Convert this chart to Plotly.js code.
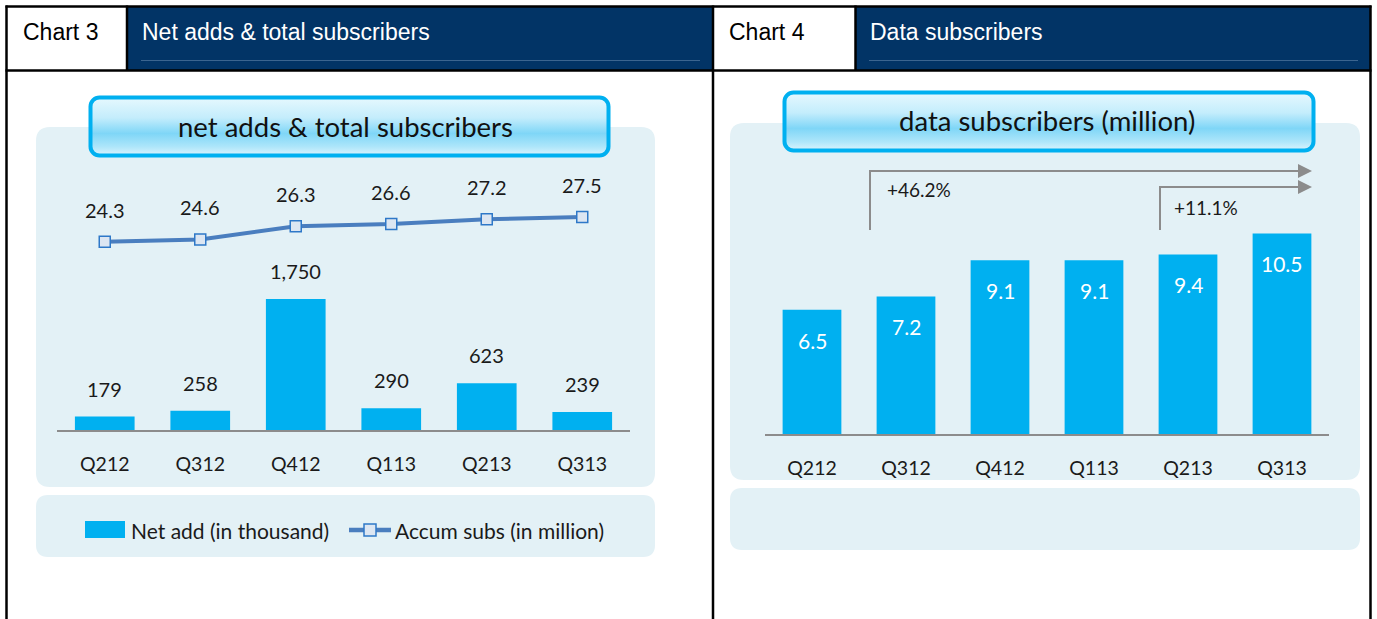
<!DOCTYPE html>
<html><head><meta charset="utf-8">
<script src="https://cdn.plot.ly/plotly-3.0.1.min.js"></script>
<style>html,body{margin:0;padding:0;background:#fff;}#chart{width:1377px;height:619px;}</style>
</head><body><div id="chart"></div>
<script>
// ---- data ----
const quarters = ["Q212","Q312","Q412","Q113","Q213","Q313"];
const netAdds = [179, 258, 1750, 290, 623, 239];          // thousand
const accumSubs = [24.3, 24.6, 26.3, 26.6, 27.2, 27.5];    // million
const dataSubs = [6.5, 7.2, 9.1, 9.1, 9.4, 10.5];          // million
const growthLabels = ["+46.2%", "+11.1%"];
const chart3Tag = "Chart 3", chart3Title = "Net adds & total subscribers";
const chart4Tag = "Chart 4", chart4Title = "Data subscribers";
const box3Title = "net adds & total subscribers";
const box4Title = "data subscribers (million)";
const legendNames = ["Net add (in thousand)", "Accum subs (in million)"];

// ---- helpers (pixel -> paper) ----
const W = 1377, H = 619;
const X = p => p / W, Y = p => 1 - p / H;
const CYAN = "#00b0f0", NAVY = "#023466", PANEL = "#e3f1f6";
const LINEC = "#4a7ebf", MFILL = "#dce6f2", MLINE = "#2e78c8";
const FONT = "Lato, 'Open Sans', sans-serif";
const HFONT = "'Liberation Sans', Arial, sans-serif";

function rr(x0, y0, x1, y1, r) {
  const p = (x, y) => X(x) + "," + Y(y);
  return "M" + p(x0 + r, y0) + " L" + p(x1 - r, y0) + " Q" + p(x1, y0) + " " + p(x1, y0 + r) +
    " L" + p(x1, y1 - r) + " Q" + p(x1, y1) + " " + p(x1 - r, y1) +
    " L" + p(x0 + r, y1) + " Q" + p(x0, y1) + " " + p(x0, y1 - r) +
    " L" + p(x0, y0 + r) + " Q" + p(x0, y0) + " " + p(x0 + r, y0) + " Z";
}
function rect(x0, y0, x1, y1, fill, layer) {
  return {type: "rect", xref: "paper", yref: "paper", x0: X(x0), x1: X(x1), y0: Y(y1), y1: Y(y0),
    fillcolor: fill, line: {width: 0}, layer: layer || "below"};
}
function line(x0, y0, x1, y1, color, w, layer) {
  return {type: "line", xref: "paper", yref: "paper", x0: X(x0), x1: X(x1), y0: Y(y0), y1: Y(y1),
    line: {color: color, width: w}, layer: layer || "above"};
}
function txt(x, y, s, size, color, anchor, family) {
  return {xref: "paper", yref: "paper", x: X(x), y: Y(y), text: s, showarrow: false,
    xanchor: anchor || "left", yanchor: "middle", font: {family: family || FONT, size: size, color: color}};
}
function boxImg(x0, y0, x1, y1) {
  const w = x1 - x0, h = y1 - y0;
  const svg = '<svg xmlns="http://www.w3.org/2000/svg" width="' + w + '" height="' + h + '" viewBox="0 0 ' + w + ' ' + h + '">' +
    '<defs><linearGradient id="g" x1="0" y1="0" x2="0" y2="1">' +
    '<stop offset="0" stop-color="#e6f8fe"/><stop offset="0.35" stop-color="#c4edfc"/>' +
    '<stop offset="0.62" stop-color="#7fd6f7"/><stop offset="0.85" stop-color="#aee6fa"/>' +
    '<stop offset="1" stop-color="#dcf4fd"/></linearGradient></defs>' +
    '<rect x="2.5" y="2.5" width="' + (w - 5) + '" height="' + (h - 5) + '" rx="9" ry="9" fill="url(#g)" stroke="' + CYAN + '" stroke-width="4"/></svg>';
  return {source: "data:image/svg+xml;charset=utf-8," + encodeURIComponent(svg), xref: "paper", yref: "paper",
    x: X(x0), y: Y(y0), sizex: w / W, sizey: h / H, xanchor: "left", yanchor: "top", sizing: "stretch", layer: "above"};
}

// ---- traces ----
const traces = [
  {type: "bar", x: quarters, y: netAdds, xaxis: "x", yaxis: "y", name: legendNames[0],
   marker: {color: CYAN}, hoverinfo: "x+y"},
  {type: "scatter", mode: "lines+markers", x: quarters, y: accumSubs, xaxis: "x", yaxis: "y2", name: legendNames[1],
   line: {color: LINEC, width: 4}, marker: {symbol: "square", size: 11, color: MFILL, line: {color: MLINE, width: 1.5}}},
  {type: "bar", x: quarters, y: dataSubs, xaxis: "x2", yaxis: "y3", name: "Data subscribers",
   marker: {color: CYAN}}
];

// ---- annotations ----
const ann = [];
ann.push(txt(21, 32, chart3Tag, 23, "#000", "left", HFONT));
ann.push(txt(140, 32, chart3Title, 23, "#fff", "left", HFONT));
ann.push(txt(727, 32, chart4Tag, 23, "#000", "left", HFONT));
ann.push(txt(868, 32, chart4Title, 23, "#fff", "left", HFONT));
ann.push(txt(345, 126, box3Title, 27.5, "#111", "center"));
ann.push(txt(1047, 121, box4Title, 27.5, "#111", "center"));
quarters.forEach((q, i) => {
  ann.push({x: q, y: netAdds[i], xref: "x", yref: "y", text: netAdds[i].toLocaleString("en-US"),
    showarrow: false, yanchor: "bottom", yshift: 14, font: {family: FONT, size: 20, color: "#1a1a1a"}});
  ann.push({x: q, y: accumSubs[i], xref: "x", yref: "y2", text: accumSubs[i].toFixed(1),
    showarrow: false, yanchor: "bottom", yshift: 18, font: {family: FONT, size: 20, color: "#1a1a1a"}});
  ann.push({x: q, y: dataSubs[i], xref: "x2", yref: "y3", text: dataSubs[i].toFixed(1),
    showarrow: false, yanchor: "top", yshift: -16, font: {family: FONT, size: 21, color: "#ffffff"}});
});
ann.push(txt(885, 190, growthLabels[0], 19, "#1a1a1a", "left"));
ann.push(txt(1172, 208, growthLabels[1], 19, "#1a1a1a", "left"));
ann.push(txt(129, 530, legendNames[0], 21, "#1a1a1a", "left"));
ann.push(txt(393, 530, legendNames[1], 21, "#1a1a1a", "left"));

// ---- shapes ----
const shapes = [];
// panels
shapes.push({type: "path", xref: "paper", yref: "paper", path: rr(36, 127, 655, 487, 14), fillcolor: PANEL, line: {width: 0}, layer: "below"});
shapes.push({type: "path", xref: "paper", yref: "paper", path: rr(36, 495, 655, 557, 12), fillcolor: PANEL, line: {width: 0}, layer: "below"});
shapes.push({type: "path", xref: "paper", yref: "paper", path: rr(730, 123, 1360, 480, 14), fillcolor: PANEL, line: {width: 0}, layer: "below"});
shapes.push({type: "path", xref: "paper", yref: "paper", path: rr(730, 488, 1360, 550, 12), fillcolor: PANEL, line: {width: 0}, layer: "below"});
// header
shapes.push(rect(127, 7, 713, 70, NAVY, "below"));
shapes.push(rect(855, 7, 1370, 70, NAVY, "below"));
shapes.push(line(141, 60.5, 700, 60.5, "#3b6590", 1));
shapes.push(line(869, 60.5, 1358, 60.5, "#3b6590", 1));
const K = "#000";
shapes.push(line(5.5, 6.5, 1371.5, 6.5, K, 2.5));
shapes.push(line(5.5, 70.5, 1371.5, 70.5, K, 2.5));
shapes.push(line(6.5, 5.5, 6.5, 619, K, 2.5));
shapes.push(line(713, 5.5, 713, 619, K, 2.5));
shapes.push(line(1370.5, 5.5, 1370.5, 619, K, 2.5));
shapes.push(line(127, 5.5, 127, 70, K, 2.5));
shapes.push(line(855.5, 5.5, 855.5, 70, K, 2.5));
// growth arrows
const G = "#8c8c8c";
shapes.push({type: "path", xref: "paper", yref: "paper", line: {color: G, width: 2}, layer: "above",
  path: "M" + X(870) + "," + Y(230) + " L" + X(870) + "," + Y(171) + " L" + X(1300) + "," + Y(171)});
shapes.push({type: "path", xref: "paper", yref: "paper", line: {color: G, width: 2}, layer: "above",
  path: "M" + X(1160) + "," + Y(230) + " L" + X(1160) + "," + Y(187) + " L" + X(1300) + "," + Y(187)});
[171, 187].forEach(yy => shapes.push({type: "path", xref: "paper", yref: "paper", fillcolor: G, line: {width: 0}, layer: "above",
  path: "M" + X(1298) + "," + Y(yy - 7) + " L" + X(1312) + "," + Y(yy) + " L" + X(1298) + "," + Y(yy + 7) + " Z"}));
// manual legend
shapes.push(rect(85, 521, 125, 538, CYAN, "above"));
shapes.push(line(349, 530, 391, 530, LINEC, 4.5));
shapes.push({type: "rect", xref: "paper", yref: "paper", x0: X(364), x1: X(376), y0: Y(536), y1: Y(524),
  fillcolor: MFILL, line: {color: MLINE, width: 1.5}, layer: "above"});

const xCommon = {type: "category", showgrid: false, zeroline: false, showline: true, linecolor: "#8c8c8c", linewidth: 1.5,
  ticks: "", ticklabelstandoff: 16, tickfont: {family: FONT, size: 19.5, color: "#1a1a1a"}, fixedrange: true};
const layout = {
  width: W, height: H, margin: {l: 0, r: 0, t: 0, b: 0},
  paper_bgcolor: "#ffffff", plot_bgcolor: "rgba(0,0,0,0)",
  showlegend: false, bargap: 0.375, font: {family: FONT},
  xaxis: Object.assign({}, xCommon, {domain: [X(57), X(630)], anchor: "y"}),
  yaxis: {domain: [Y(430), Y(170)], range: [0, 3473], visible: false, fixedrange: true},
  yaxis2: {domain: [Y(430), Y(170)], range: [0, 33.57], overlaying: "y", visible: false, fixedrange: true},
  xaxis2: Object.assign({}, xCommon, {domain: [X(765), X(1329)], anchor: "y3"}),
  yaxis3: {domain: [Y(434), Y(170)], range: [0, 13.82], visible: false, fixedrange: true},
  shapes: shapes, annotations: ann,
  images: [boxImg(88, 95, 611, 158), boxImg(782, 90, 1316, 153)]
};
Plotly.newPlot("chart", traces, layout, {displayModeBar: false, staticPlot: true});
</script></body></html>
